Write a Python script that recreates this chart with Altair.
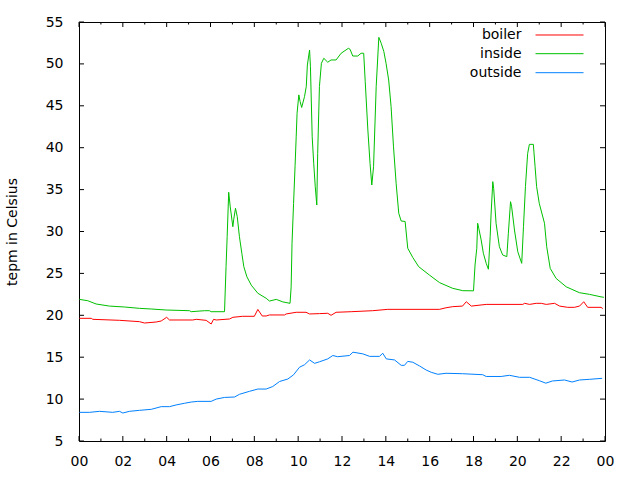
import altair as alt
import pandas as pd

# ---- data (hours of day, temperatures in Celsius) ----
outside_h = [0.02, 0.48, 0.94, 1.54, 1.85, 2.0, 2.3, 2.76, 3.3, 3.75, 4.13, 4.43, 4.81, 5.12, 5.42,
             6.03, 6.26, 6.64, 7.1, 7.32, 7.78, 8.16, 8.54, 8.84, 9.15, 9.53, 9.79, 10.06, 10.29,
             10.52, 10.75, 10.97, 11.35, 11.58, 11.8, 12.34, 12.5, 12.95, 13.26, 13.71, 13.86,
             14.02, 14.4, 14.7, 14.85, 15.0, 15.23, 15.54, 15.84, 16.07, 16.37, 16.75, 17.5,
             18.42, 18.58, 19.26, 19.64, 20.1, 20.56, 21.0, 21.3, 21.6, 22.15, 22.5, 22.84,
             23.3, 23.87]
outside_v = [8.42, 8.42, 8.54, 8.42, 8.54, 8.34, 8.54, 8.66, 8.78, 9.1, 9.1, 9.3, 9.5, 9.65, 9.73,
             9.73, 10.0, 10.2, 10.25, 10.57, 10.93, 11.2, 11.2, 11.5, 12.1, 12.4, 12.9, 13.8, 14.1,
             14.67, 14.27, 14.45, 14.8, 15.2, 15.06, 15.2, 15.6, 15.4, 15.1, 15.1, 15.47,
             14.8, 14.67, 14.03, 14.03, 14.5, 14.4, 13.95, 13.47, 13.2, 12.96, 13.08, 13.03,
             12.91, 12.7, 12.7, 12.84, 12.6, 12.6, 12.2, 11.9, 12.16, 12.28, 12.04, 12.28,
             12.36, 12.48]

boiler_h = [0.02, 0.56, 0.63, 1.85, 2.76, 2.99, 3.52, 3.75, 4.0, 4.13, 5.19, 5.35, 5.8, 6.03, 6.14,
            6.26, 6.87, 7.02, 7.47, 8.0, 8.16, 8.36, 8.54, 8.69, 9.38, 9.45, 9.91, 10.36, 10.52,
            10.97, 11.35, 11.5, 11.73, 12.42, 13.4, 14.09, 16.45, 16.75, 17.05, 17.5, 17.67,
            17.9, 18.58, 20.25, 20.33, 20.56, 20.86, 21.09, 21.32, 21.7, 21.93, 22.3, 22.6,
            22.84, 23.03, 23.21, 23.82, 23.9]
boiler_v = [19.64, 19.64, 19.52, 19.4, 19.24, 19.08, 19.2, 19.32, 19.76, 19.44, 19.44, 19.52, 19.4,
            18.96, 19.52, 19.44, 19.56, 19.76, 19.88, 19.88, 20.7, 19.92, 19.92, 20.04, 20.04,
            20.16, 20.36, 20.36, 20.16, 20.2, 20.24, 20.0, 20.36, 20.43, 20.55, 20.71, 20.71,
            20.9, 21.03, 21.1, 21.62, 21.1, 21.3, 21.3, 21.43, 21.3, 21.43, 21.43, 21.3, 21.43,
            21.1, 20.95, 20.95, 21.1, 21.62, 20.95, 20.95, 20.8]

inside_h = [0.02, 0.4, 0.78, 1.39, 2.08, 2.76, 3.3, 3.98, 5.04, 5.12, 5.73, 5.95, 6.03, 6.64, 6.71,
            6.76, 6.83, 6.9, 7.02, 7.06, 7.14, 7.22, 7.32, 7.43, 7.52, 7.66, 7.86, 8.16, 8.54,
            8.69, 9.0, 9.3, 9.63, 9.68, 9.72, 9.79, 9.86, 9.91, 9.95, 10.03, 10.09, 10.16, 10.29,
            10.37, 10.42, 10.52, 10.56, 10.64, 10.71, 10.78, 10.85, 10.89, 10.97, 11.06, 11.17,
            11.35, 11.5, 11.73, 11.96, 12.29, 12.37, 12.49, 12.72, 12.87, 12.99, 13.06, 13.18,
            13.28, 13.36, 13.44, 13.56, 13.68, 13.79, 13.91, 14.01, 14.13, 14.24, 14.35, 14.47,
            14.59, 14.7, 14.88, 15.0, 15.23, 15.5, 15.99, 16.45, 17.05, 17.51, 18.0, 18.07,
            18.15, 18.19, 18.24, 18.35, 18.45, 18.58, 18.68, 18.76, 18.8, 18.88, 18.92, 19.03,
            19.18, 19.33, 19.52, 19.59, 19.69, 19.74, 19.87, 20.02, 20.2, 20.28, 20.37, 20.47,
            20.55, 20.73, 20.81, 20.88, 21.0, 21.24, 21.34, 21.5, 21.77, 22.23, 22.83, 23.29,
            23.82, 23.95]
inside_v = [21.9, 21.74, 21.35, 21.1, 20.99, 20.83, 20.75, 20.63, 20.55, 20.43, 20.55, 20.55, 20.43,
            20.43, 25.8, 29.4, 34.68, 32.96, 30.57, 31.45, 32.77, 31.77, 29.38, 27.4, 25.8, 24.6,
            23.6, 22.63, 22.03, 21.7, 21.9, 21.6, 21.43, 23.4, 28.6, 33.36, 37.9, 41.3, 44.1,
            46.3, 45.5, 44.8, 46.1, 47.3, 49.87, 51.66, 49.67, 41.3, 38.1, 35.35, 33.16, 39.3,
            47.3, 50.07, 50.67, 50.2, 50.47, 50.47, 51.27, 51.86, 51.74, 50.94, 50.94, 51.27,
            51.27, 47.88, 42.1, 38.1, 35.55, 37.73, 47.3, 53.17, 52.46, 51.46, 50.07, 48.08,
            44.9, 40.1, 35.75, 32.17, 31.25, 31.2, 28.0, 26.9, 25.8, 24.8, 23.9, 23.22, 22.94,
            22.92, 26.0, 28.0, 30.98, 30.38, 28.99, 27.4, 26.2, 25.5, 29.38, 31.97, 35.95, 35.15,
            30.98, 28.19, 27.2, 27.0, 29.78, 33.56, 32.96, 30.18, 27.59, 26.2, 30.57, 35.35,
            39.3, 40.4, 40.4, 37.73, 35.35, 33.36, 30.98, 28.19, 25.6, 24.4, 23.4, 22.7, 22.5,
            22.2, 22.15]

series_names = ["boiler", "inside", "outside"]
series_colors = ["#ff0000", "#00c000", "#0080ff"]

x_major = list(range(0, 25, 2))
x_minor = list(range(1, 24, 2))
y_major = list(range(5, 56, 5))

# legend placement (in data units)
legend_text_h = [20.19, 20.19, 20.19]
legend_line_h1 = [20.83, 20.83, 20.83]
legend_line_h2 = [23.02, 23.02, 23.02]
legend_v = [53.45, 51.22, 48.95]

# ---- tables ----
rows = []
for name, hs, vs in [("boiler", boiler_h, boiler_v), ("inside", inside_h, inside_v),
                     ("outside", outside_h, outside_v)]:
    for i, (h, v) in enumerate(zip(hs, vs)):
        rows.append({"series": name, "h": h, "v": v, "i": i})
df = pd.DataFrame(rows)

leg = pd.DataFrame({"series": series_names, "h": legend_text_h, "h1": legend_line_h1,
                    "h2": legend_line_h2, "v": legend_v})

W, H = 526, 419
FONT = "DejaVu Sans"

xscale = alt.Scale(domain=[0, 24], nice=False, zero=False)
yscale = alt.Scale(domain=[5, 55], nice=False, zero=False)
cscale = alt.Scale(domain=series_names, range=series_colors)

xaxis = alt.Axis(
    values=x_major, ticks=False, domain=False, grid=False, title=None,
    labelExpr="(datum.value % 24 < 10 ? '0' : '') + (datum.value % 24)",
    labelFont=FONT, labelFontSize=14, labelColor="black", labelPadding=13,
    labelFlush=False)
yaxis = alt.Axis(
    values=y_major, ticks=False, domain=False, grid=False,
    title="tepm in Celsius", titleFont=FONT, titleFontSize=14, titleFontWeight="normal",
    titleColor="black", titleX=-67, titleY=H / 2, titleBaseline="middle",
    labelFont=FONT, labelFontSize=14, labelColor="black", labelPadding=16,
    labelFlush=False)

lines = alt.Chart(df).mark_line(strokeWidth=1, interpolate="linear").encode(
    x=alt.X("h:Q", scale=xscale, axis=xaxis),
    y=alt.Y("v:Q", scale=yscale, axis=yaxis),
    color=alt.Color("series:N", scale=cscale, legend=None),
    order="i:Q",
)

xmaj = pd.DataFrame({"h": x_major})
xmin = pd.DataFrame({"h": x_minor})
ymaj = pd.DataFrame({"v": y_major})

tick_layers = []
for data, length in [(xmaj, 5), (xmin, 2.5)]:
    tick_layers.append(alt.Chart(data).mark_rule(color="black", strokeWidth=1).encode(
        x=alt.X("h:Q", scale=xscale, axis=xaxis), y=alt.value(H), y2=alt.value(H - length)))
    tick_layers.append(alt.Chart(data).mark_rule(color="black", strokeWidth=1).encode(
        x=alt.X("h:Q", scale=xscale, axis=xaxis), y=alt.value(0), y2=alt.value(length)))
tick_layers.append(alt.Chart(ymaj).mark_rule(color="black", strokeWidth=1).encode(
    y=alt.Y("v:Q", scale=yscale, axis=yaxis), x=alt.value(0), x2=alt.value(5)))
tick_layers.append(alt.Chart(ymaj).mark_rule(color="black", strokeWidth=1).encode(
    y=alt.Y("v:Q", scale=yscale, axis=yaxis), x=alt.value(W), x2=alt.value(W - 5)))

leg_text = alt.Chart(leg).mark_text(align="right", baseline="middle", font=FONT,
                                    fontSize=14, color="black").encode(
    x=alt.X("h:Q", scale=xscale, axis=xaxis),
    y=alt.Y("v:Q", scale=yscale, axis=yaxis),
    text="series:N",
)
leg_line = alt.Chart(leg).mark_rule(strokeWidth=1).encode(
    x=alt.X("h1:Q", scale=xscale, axis=xaxis),
    x2="h2:Q",
    y=alt.Y("v:Q", scale=yscale, axis=yaxis),
    color=alt.Color("series:N", scale=cscale, legend=None),
)

chart = alt.layer(lines, *tick_layers, leg_text, leg_line).properties(
    width=W, height=H,
    autosize=alt.AutoSizeParams(type="none"),
    padding={"left": 79, "top": 22, "right": 35, "bottom": 39},
    background="white",
).configure_view(stroke="black", strokeWidth=1)

chart.save("out.html", embed_options={"renderer": "svg", "actions": False})
